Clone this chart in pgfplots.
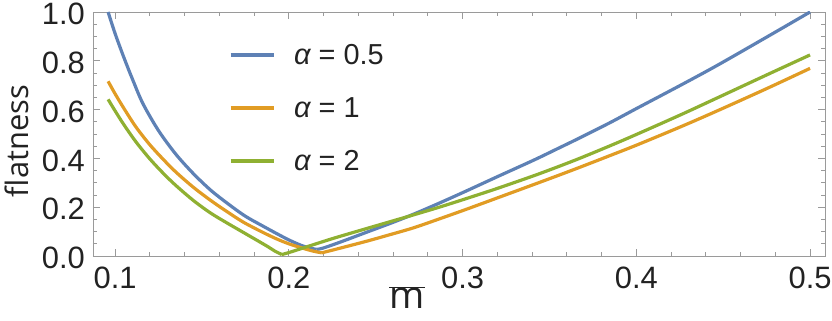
\documentclass[border=0pt]{standalone}
\usepackage{fontspec}
\setmainfont{Liberation Sans}
\newfontfamily\osans{Open Sans}
\usepackage{pgfplots}
\pgfplotsset{compat=1.18}
\definecolor{mblue}{HTML}{5E81B5}
\definecolor{morange}{HTML}{E19C24}
\definecolor{mgreen}{HTML}{8FB032}
\definecolor{tickgray}{HTML}{9A9A9A}
\definecolor{labgray}{HTML}{222222}
\begin{document}
\begin{tikzpicture}
\useasboundingbox (-93bp,-65bp) rectangle (739bp,256bp);
\begin{axis}[
  at={(0,0)}, anchor=south west,
  scale only axis, width=732bp, height=244bp,
  xmin=0.0873, xmax=0.5086, ymin=0, ymax=1,
  axis line style={tickgray, line width=0.8bp},
  every tick/.style={tickgray, line width=0.8bp},
  tick align=inside,
  major tick length=7bp, minor tick length=4bp,
  xtick={0.1,0.2,0.3,0.4,0.5},
  ytick={0,0.2,0.4,0.6,0.8,1.0},
  minor x tick num=4, minor y tick num=3,
  /pgf/number format/assume math mode=true,
  xticklabel={\pgfmathprintnumber[fixed,fixed zerofill,precision=1]{\tick}},
  yticklabel={\pgfmathprintnumber[fixed,fixed zerofill,precision=1]{\tick}},
  ticklabel style={font=\fontsize{31}{36}\selectfont, text=labgray, inner sep=0pt},
  xticklabel style={yshift=-11bp},
  yticklabel style={xshift=-8bp, yshift=-2bp},
  xlabel={$\overline{\hbox{\osans\fontsize{38}{44}\selectfont m}}$},
  xlabel style={at={(axis description cs:0.429,0)}, anchor=north, inner sep=0pt, yshift=-30bp, text=labgray},
  ylabel={flatness},
  ylabel style={at={(axis description cs:-0.104,0.471)}, anchor=center, rotate=0, inner sep=0pt, font=\osans\fontsize{31}{36}\selectfont, text=labgray},
  legend image code/.code={\draw[#1] (0bp,0bp) -- (43bp,0bp);},
  legend cell align=left,
  legend style={at={(axis description cs:0.1858,0.8648)}, anchor=north west,
    draw=none, fill=none, inner sep=0pt, outer sep=0pt,
    font=\fontsize{29}{34}\selectfont, text=labgray,
    row sep=33bp,
    nodes={inner sep=0pt, text height=20bp, text depth=0pt},
    /tikz/every odd column/.append style={column sep=19bp}},
  every axis plot/.append style={line width=3.2bp, smooth, tension=0.5},
]
\addplot[mblue] coordinates {
(0.096,1.000) (0.100,0.912) (0.105,0.815) (0.110,0.725) (0.116,0.625)
(0.125,0.514) (0.135,0.417) (0.145,0.338) (0.155,0.270) (0.165,0.214)
(0.175,0.163) (0.185,0.123) (0.193,0.092) (0.200,0.066) (0.207,0.044)
(0.212,0.033) (0.216,0.027)
};
\addlegendentry{{\itshape α} = 0.5}
\addplot[mblue, forget plot] coordinates {
(0.216,0.027) (0.220,0.033) (0.230,0.058) (0.245,0.098)
(0.260,0.138) (0.272,0.172) (0.287,0.218) (0.302,0.266) (0.320,0.325)
(0.341,0.393) (0.355,0.441) (0.368,0.486) (0.385,0.547) (0.400,0.604)
(0.425,0.698) (0.446,0.779) (0.475,0.897) (0.500,1.000)
};
\addplot[morange] coordinates {
(0.096,0.716) (0.100,0.665) (0.105,0.606) (0.112,0.529) (0.120,0.456)
(0.128,0.394) (0.135,0.344) (0.145,0.282) (0.155,0.228) (0.165,0.179)
(0.174,0.138) (0.185,0.097) (0.193,0.070) (0.200,0.050) (0.208,0.032)
(0.214,0.020) (0.219,0.013)
};
\addlegendentry{{\itshape α} = 1}
\addplot[morange, forget plot] coordinates {
(0.219,0.013) (0.230,0.033) (0.245,0.061) (0.258,0.087)
(0.272,0.116) (0.287,0.153) (0.302,0.191) (0.320,0.238) (0.341,0.293)
(0.355,0.330) (0.368,0.365) (0.385,0.412) (0.400,0.454) (0.425,0.528)
(0.446,0.593) (0.475,0.686) (0.500,0.769)
};
\addplot[mgreen] coordinates {
(0.096,0.642) (0.100,0.595) (0.105,0.539) (0.112,0.468) (0.120,0.398)
(0.128,0.337) (0.135,0.289) (0.145,0.228) (0.155,0.176) (0.165,0.133)
(0.174,0.096) (0.182,0.063) (0.188,0.038) (0.192,0.020) (0.196,0.006)
};
\addlegendentry{{\itshape α} = 2}
\addplot[mgreen, forget plot] coordinates {
(0.196,0.006) (0.200,0.014) (0.207,0.030) (0.225,0.071) (0.245,0.113) (0.258,0.140)
(0.272,0.169) (0.287,0.201) (0.302,0.235) (0.320,0.277) (0.341,0.329)
(0.355,0.366) (0.368,0.402) (0.385,0.452) (0.400,0.498) (0.425,0.577)
(0.446,0.646) (0.475,0.742) (0.500,0.824)
};
\end{axis}
\end{tikzpicture}
\end{document}
